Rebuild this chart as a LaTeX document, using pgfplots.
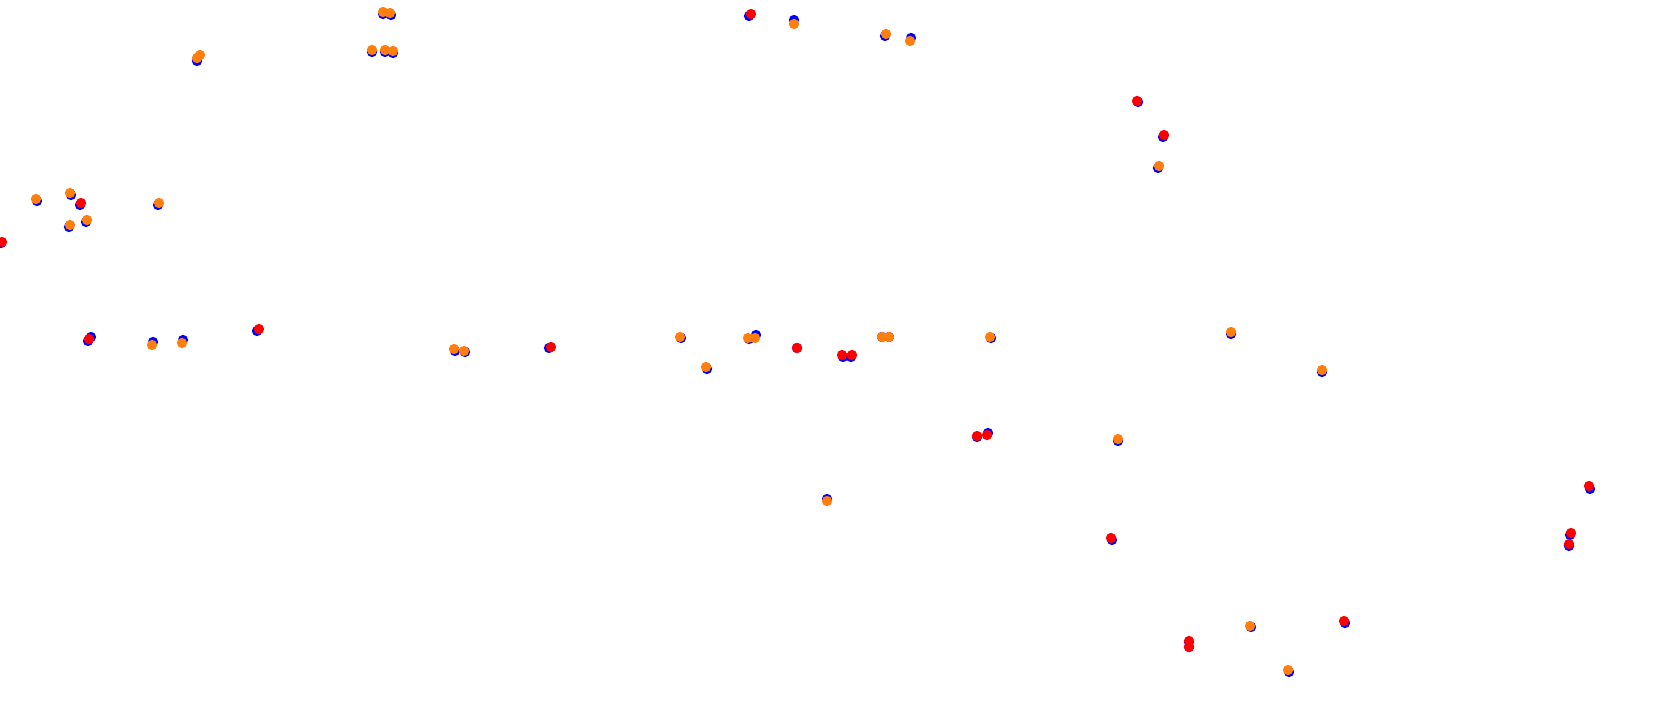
\documentclass[border=0pt]{standalone}
\usepackage{pgfplots}
\pgfplotsset{compat=1.18}
\definecolor{myorange}{RGB}{255,127,14}
\begin{document}
\begin{tikzpicture}
\begin{axis}[
  name=main,
  width=16.8cm, height=7.28cm, scale only axis,
  xmin=0, xmax=1680, ymin=0, ymax=728, y dir=reverse,
  xtick=\empty, ytick=\empty, axis line style={draw=none},
  clip marker paths=true,
]
\addplot[only marks, mark=*, mark size=1.25pt, draw=blue, fill=blue] coordinates {
(383,14) (391,15) (197,61) (372,52) (385,52) (393,53) (37,201) (71,195) (80,205) (86,222) (69,227) (158,205) (1,243)
(749,16) (794,20) (885,36) (911,38) (1138,102) (1163,137) (1158,168)
(91,337) (88,341) (153,342) (183,340) (257,331)
(455,351) (465,352) (549,348) (681,338) (707,369) (749,339) (756,335) (797,348) (843,357) (851,357) (882,337) (889,337) (991,338) (977,437) (988,433) (1118,441) (1231,334) (1322,372)
(827,499) (1112,540) (1189,642) (1189,647) (1251,627) (1289,672) (1345,623) (1590,489) (1570,535) (1569,546)
};
\addplot[only marks, mark=*, mark size=1.25pt, draw=red, fill=red] coordinates {
(81,203) (2,242) (751,14) (1137,101) (1164,135) (89,339) (259,329) (551,347) (797,348) (842,355) (852,355) (977,436) (987,435) (1111,538) (1189,641) (1189,647) (1344,621) (1589,486) (1571,533) (1569,544)
};
\addplot[only marks, mark=*, mark size=1.25pt, draw=myorange, fill=myorange] coordinates {
(383,12) (390,13) (197,58) (200,55) (372,50) (385,50) (393,51) (36,199) (70,193) (87,220) (70,225) (159,203) (794,24) (886,34) (910,41) (1159,166) (152,345) (182,343) (454,349) (464,351) (680,337) (706,367) (748,338) (755,338) (882,337) (889,337) (990,337) (1118,439) (1231,332) (1322,370) (827,501) (1250,626) (1288,670)
};
\end{axis}
\pgfresetboundingbox
\path (main.south west) rectangle (main.north east);
\end{tikzpicture}
\end{document}
